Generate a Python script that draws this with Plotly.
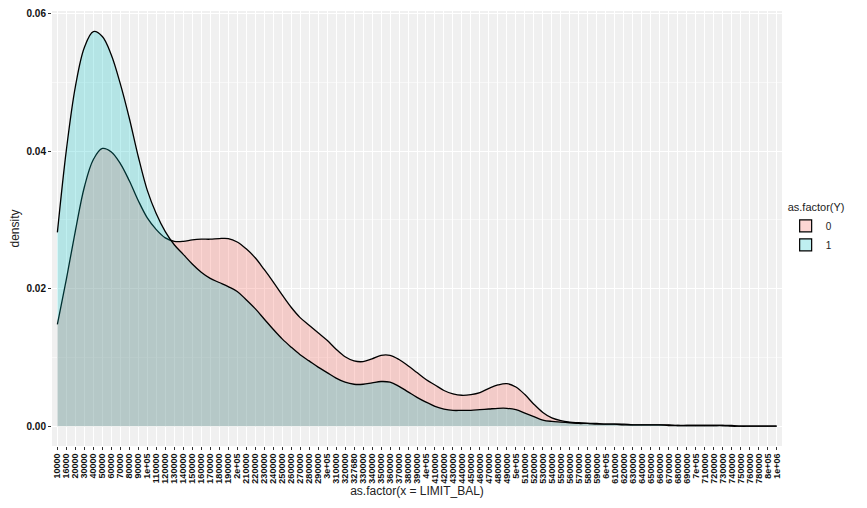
import plotly.graph_objects as go

categories = ["10000", "16000", "20000", "30000", "40000", "50000", "60000", "70000", "80000", "90000",
              "1e+05", "110000", "120000", "130000", "140000", "150000", "160000", "170000", "180000", "190000",
              "2e+05", "210000", "220000", "230000", "240000", "250000", "260000", "270000", "280000", "290000",
              "3e+05", "310000", "320000", "327680", "330000", "340000", "350000", "360000", "370000", "380000", "390000",
              "4e+05", "410000", "420000", "430000", "440000", "450000", "460000", "470000", "480000", "490000",
              "5e+05", "510000", "520000", "530000", "540000", "550000", "560000", "570000", "580000", "590000",
              "6e+05", "610000", "620000", "630000", "640000", "650000", "660000", "670000", "680000", "690000",
              "7e+05", "710000", "720000", "730000", "740000", "750000", "760000", "780000",
              "8e+05", "1e+06"]

density_y0 = [0.0148, 0.0214, 0.0284, 0.0348, 0.0388, 0.0404, 0.0399, 0.0382, 0.0357, 0.0328,
              0.0303, 0.0286, 0.0274, 0.0269, 0.0269, 0.0271, 0.0272, 0.0272, 0.0273, 0.0273,
              0.0268, 0.0258, 0.0245, 0.0228, 0.0210, 0.0191, 0.0173, 0.0158, 0.0147, 0.0136,
              0.0125, 0.0112, 0.0101, 0.0095, 0.0094, 0.0098, 0.0103, 0.0103, 0.0097, 0.0088,
              0.0078, 0.0068, 0.0060, 0.0052, 0.0047, 0.0045, 0.0046, 0.0049, 0.0055, 0.0060,
              0.0062, 0.0057, 0.0046, 0.0032, 0.0020, 0.0012, 0.0008, 0.0006, 0.0005, 0.0004,
              0.0004, 0.0003, 0.0003, 0.0003, 0.0002, 0.0002, 0.0002, 0.0002, 0.0002, 0.0001,
              0.0001, 0.0001, 0.0001, 0.0001, 0.0001, 0.0001, 0.0000, 0.0000, 0.0000, 0.0000, 0.0000]

density_y1 = [0.0282, 0.0402, 0.0494, 0.0551, 0.0574, 0.0567, 0.0540, 0.0498, 0.0448, 0.0392,
              0.0343, 0.0309, 0.0283, 0.0264, 0.0250, 0.0236, 0.0224, 0.0215, 0.0209, 0.0203,
              0.0196, 0.0184, 0.0171, 0.0156, 0.0141, 0.0127, 0.0115, 0.0104, 0.0095, 0.0086,
              0.0078, 0.0070, 0.0064, 0.0061, 0.0061, 0.0063, 0.0065, 0.0064, 0.0058, 0.0050,
              0.0042, 0.0035, 0.0029, 0.0025, 0.0023, 0.0023, 0.0023, 0.0024, 0.0025, 0.0026,
              0.0026, 0.0024, 0.0019, 0.0014, 0.0009, 0.0007, 0.0006, 0.0005, 0.0004, 0.0004,
              0.0003, 0.0003, 0.0003, 0.0002, 0.0002, 0.0002, 0.0002, 0.0002, 0.0001, 0.0001,
              0.0001, 0.0001, 0.0001, 0.0001, 0.0001, 0.0000, 0.0000, 0.0000, 0.0000, 0.0000, 0.0000]

y_ticks = [0.00, 0.02, 0.04, 0.06]
y_ticktext = ["0.00", "0.02", "0.04", "0.06"]
groups = ["0", "1"]
fill_colors = ["rgba(248,118,109,0.3)", "rgba(0,191,196,0.25)"]

fig = go.Figure()
for name, vals, fc in zip(groups, [density_y0, density_y1], fill_colors):
    fig.add_trace(go.Scatter(
        x=categories, y=vals, name=name, mode="lines", showlegend=False,
        line=dict(color="black", width=1.3, shape="spline", smoothing=1.0),
        fill="tozeroy", fillcolor=fc))
# legend keys as filled squares (ggplot style)
for name, fc in zip(groups, fill_colors):
    fig.add_trace(go.Bar(x=[None], y=[None], name=name,
                         marker=dict(color=fc, line=dict(color="black", width=1.2))))

fig.update_layout(
    width=851, height=492,
    margin=dict(l=44, r=77, t=3, b=54),
    paper_bgcolor="white", plot_bgcolor="#F0F0F0",
    font=dict(family="Liberation Sans, Arial, sans-serif", color="#222"),
    legend=dict(title=dict(text="as.factor(Y)", font=dict(size=11, color="#222")),
                font=dict(size=10, color="#222"),
                x=1.005, xanchor="left", y=0.5, yanchor="middle",
                bgcolor="rgba(0,0,0,0)", tracegroupgap=0, itemwidth=30),
    showlegend=True,
)
fig.update_xaxes(
    type="category", categoryorder="array", categoryarray=categories,
    range=[-0.6, len(categories) - 0.4], automargin=False,
    tickmode="array", tickvals=categories, ticktext=categories,
    tickangle=-90, tickfont=dict(size=9, color="#111", weight="bold"),
    ticks="outside", ticklen=3, tickcolor="#333", tickwidth=1,
    showgrid=True, gridcolor="white", gridwidth=1, zeroline=False,
    title=dict(text="as.factor(x = LIMIT_BAL)", font=dict(size=12, color="#222"), standoff=2),
)
fig.update_yaxes(
    range=[-0.00288, 0.0604], automargin=False,
    tickmode="array", tickvals=y_ticks, ticktext=y_ticktext,
    tickfont=dict(size=10, color="#111", weight="bold"),
    ticks="outside", ticklen=3, tickcolor="#333", tickwidth=1,
    showgrid=True, gridcolor="white", gridwidth=1.2, zeroline=False,
    minor=dict(tickvals=[0.01, 0.03, 0.05], showgrid=True, gridcolor="#F8F8F8", gridwidth=0.6, ticks=""),
    title=dict(text="density", font=dict(size=12, color="#222"), standoff=6),
)

fig.write_html("out.html")
